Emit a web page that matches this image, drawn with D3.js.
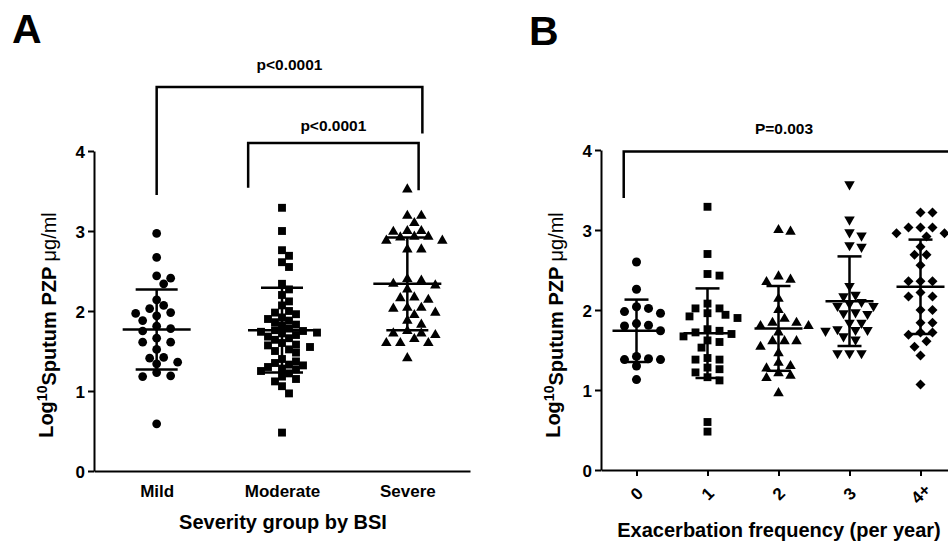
<!DOCTYPE html>
<html>
<head>
<meta charset="utf-8">
<script src="https://cdn.jsdelivr.net/npm/d3@7"></script>
<style>
body { margin: 0; background: #fff; }
svg text { font-family: "Liberation Sans", Arial, sans-serif; font-weight: bold; fill: #000; }
</style>
</head>
<body>
<svg width="948" height="546"></svg>
<script>
// panel A: severity groups
var sevCats = ["Mild", "Moderate", "Severe"];
var mildVals = [2.97, 2.67, 2.44, 2.41, 2.34, 2.14, 2.07, 2.03, 1.98, 1.97, 1.94, 1.88, 1.81, 1.78, 1.75,
  1.66, 1.61, 1.61, 1.52, 1.42, 1.41, 1.36, 1.34, 1.23, 1.19, 1.18, 0.59];
var moderateVals = [3.29, 3.00, 2.76, 2.69, 2.61, 2.55, 2.34, 2.27, 2.20, 2.12, 2.07, 2.00, 1.98, 1.96, 1.92,
  1.90, 1.88, 1.86, 1.83, 1.82, 1.78, 1.76, 1.75, 1.74, 1.73, 1.72, 1.70, 1.68, 1.66, 1.64, 1.60, 1.58,
  1.57, 1.55, 1.52, 1.50, 1.48, 1.40, 1.37, 1.35, 1.33, 1.32, 1.30, 1.28, 1.27, 1.25, 1.22, 1.18, 1.15,
  1.12, 1.06, 0.97, 0.48];
var severeVals = [3.52, 3.19, 3.19, 3.10, 3.00, 3.00, 2.99, 2.93, 2.93, 2.92, 2.88, 2.88, 2.77, 2.77, 2.40,
  2.38, 2.34, 2.32, 2.27, 2.17, 2.16, 2.14, 2.04, 2.04, 2.03, 1.98, 1.95, 1.88, 1.83, 1.75, 1.72, 1.72,
  1.70, 1.65, 1.60, 1.60, 1.60, 1.41];
var sevMean = [1.77, 1.76, 2.34];
var sevSD = [0.50, 0.53, 0.58];

// panel B: exacerbation frequency
var exCats = ["0", "1", "2", "3", "4+"];
var ex0Vals = [2.60, 2.26, 2.04, 2.02, 1.98, 1.96, 1.83, 1.81, 1.80, 1.74, 1.42, 1.39, 1.38, 1.38, 1.30, 1.13];
var ex1Vals = [3.29, 2.70, 2.45, 2.43, 2.08, 2.02, 2.02, 1.96, 1.94, 1.92, 1.90, 1.76, 1.74, 1.72, 1.70,
  1.67, 1.62, 1.60, 1.53, 1.40, 1.38, 1.38, 1.28, 1.26, 1.22, 1.16, 1.12, 0.60, 0.48];
var ex2Vals = [3.00, 2.98, 2.42, 2.38, 2.35, 2.14, 2.00, 1.89, 1.84, 1.84, 1.80, 1.80, 1.72, 1.61, 1.61,
  1.61, 1.54, 1.46, 1.34, 1.30, 1.27, 1.21, 1.18, 1.15, 0.96];
var ex3Vals = [3.57, 3.13, 2.97, 2.93, 2.81, 2.79, 2.30, 2.19, 2.17, 2.10, 2.08, 2.05, 2.05, 1.97, 1.96,
  1.95, 1.84, 1.84, 1.76, 1.75, 1.75, 1.74, 1.67, 1.63, 1.46, 1.46, 1.46];
var ex4Vals = [3.22, 3.22, 3.03, 3.03, 3.03, 2.96, 2.96, 2.92, 2.79, 2.69, 2.69, 2.56, 2.36, 2.36, 2.36,
  2.22, 2.17, 2.17, 2.00, 2.00, 1.84, 1.84, 1.72, 1.72, 1.69, 1.61, 1.54, 1.43, 1.07];
var exMean = [1.74, 1.71, 1.77, 2.11, 2.29];
var exSD = [0.39, 0.56, 0.53, 0.56, 0.59];

var yTicks = [0, 1, 2, 3, 4];

var svg = d3.select("svg");

// simple column scatter layout, like prism does
function swarm(vals, y, cx, step, minDist) {
  var placed = [];
  vals.slice().sort(function(a, b) { return b - a; }).forEach(function(v) {
    var py = y(v);
    for (var k = 0; k < 60; k++) {
      var off = k === 0 ? 0 : (k % 2 ? 1 : -1) * Math.ceil(k / 2) * step;
      var px = cx + off;
      var ok = placed.every(function(p) { return Math.hypot(p.x - px, p.y - py) >= minDist; });
      if (ok) { placed.push({x: px, y: py, v: v}); break; }
    }
  });
  return placed;
}

function drawPanel(opt) {
  var g = svg.append("g");
  var x = d3.scalePoint().domain(opt.cats).range(opt.xRange).padding(0.5);
  var y = d3.scaleLinear().domain([0, 4]).range(opt.yRange);
  var step = x.step();

  // y axis
  var ya = g.append("g")
    .attr("transform", "translate(" + opt.xRange[0] + ",0)")
    .call(d3.axisLeft(y).tickValues(yTicks).tickFormat(d3.format("d")).tickSize(6).tickSizeOuter(0).tickPadding(3));
  ya.selectAll("path, line").attr("stroke", "#000").attr("stroke-width", 2);
  ya.selectAll("text").style("font-size", "17px").attr("dy", "0.36em");

  // x axis
  var xa = g.append("g")
    .attr("transform", "translate(0," + opt.yRange[0] + ")")
    .call(d3.axisBottom(x).tickSize(opt.xTick).tickSizeOuter(0).tickPadding(opt.xPad));
  xa.selectAll("path, line").attr("stroke", "#000").attr("stroke-width", 2);
  xa.selectAll("text").style("font-size", "17px");
  if (opt.rotate) {
    xa.selectAll("text")
      .attr("dy", null)
      .attr("text-anchor", "middle")
      .attr("dominant-baseline", "central")
      .attr("transform", function() { return "translate(0," + opt.xPad + ") rotate(-45)"; })
      .attr("y", 0);
  }

  // points
  opt.series.forEach(function(vals, i) {
    var pts = swarm(vals, y, x(opt.cats[i]), opt.swStep, opt.swDist[i]);
    var sym = opt.symbols[i];
    g.selectAll(null)
      .data(pts)
      .enter()
      .append("path")
      .attr("d", d3.symbol().type(sym.type).size(sym.size))
      .attr("transform", function(d) { return "translate(" + d.x + "," + d.y + ") rotate(" + (sym.rot || 0) + ")"; })
      .attr("fill", "#000");
  });

  // mean and SD
  var sg = g.selectAll(".sum")
    .data(opt.cats)
    .enter()
    .append("g")
    .attr("class", "sum")
    .attr("stroke", "#000")
    .attr("stroke-width", 2.5);
  sg.append("line")
    .attr("x1", function(d) { return x(d) - opt.meanW; })
    .attr("x2", function(d) { return x(d) + opt.meanW; })
    .attr("y1", function(d, i) { return y(opt.mean[i]); })
    .attr("y2", function(d, i) { return y(opt.mean[i]); });
  sg.append("line")
    .attr("x1", function(d) { return x(d); })
    .attr("x2", function(d) { return x(d); })
    .attr("y1", function(d, i) { return y(opt.mean[i] + opt.sd[i]); })
    .attr("y2", function(d, i) { return y(opt.mean[i] - opt.sd[i]); });
  [1, -1].forEach(function(s) {
    sg.append("line")
      .attr("x1", function(d) { return x(d) - opt.capW; })
      .attr("x2", function(d) { return x(d) + opt.capW; })
      .attr("y1", function(d, i) { return y(opt.mean[i] + s * opt.sd[i]); })
      .attr("y2", function(d, i) { return y(opt.mean[i] + s * opt.sd[i]); });
  });

  // significance brackets
  opt.brackets.forEach(function(b) {
    var xl = x(b.from) + b.dxL * step;
    var xr = x(b.to) + b.dxR * step;
    g.append("path")
      .attr("d", "M" + xl + "," + y(b.yL) + "V" + y(b.y) + "H" + xr + "V" + y(b.yR))
      .attr("fill", "none")
      .attr("stroke", "#000")
      .attr("stroke-width", 2.5);
    g.append("text")
      .attr("x", b.tx != null ? b.tx : (xl + xr) / 2)
      .attr("y", y(b.y) - b.ty)
      .attr("text-anchor", "middle")
      .style("font-size", "15.5px")
      .text(b.label);
  });

  // y title
  var yt = g.append("text")
    .attr("transform", "translate(" + opt.yTitle[0] + "," + opt.yTitle[1] + ") rotate(-90)")
    .attr("text-anchor", "middle")
    .style("font-size", "20px");
  yt.append("tspan").text("Log");
  yt.append("tspan").attr("dy", "-0.45em").style("font-size", "14px").text("10");
  yt.append("tspan").attr("dy", "0.45em").text("Sputum PZP ");
  yt.append("tspan").style("font-weight", "normal").text("\u03bcg/ml");

  // x title
  g.append("text")
    .attr("x", opt.xTitle[0])
    .attr("y", opt.xTitle[1])
    .attr("text-anchor", "middle")
    .style("font-size", "20px")
    .text(opt.xLabel);

  // panel letter
  g.append("text")
    .attr("x", opt.letterPos[0])
    .attr("y", opt.letterPos[1])
    .style("font-size", "41px")
    .text(opt.letter);
}

drawPanel({
  cats: sevCats,
  series: [mildVals, moderateVals, severeVals],
  mean: sevMean, sd: sevSD,
  xRange: [94, 470], yRange: [471, 151],
  xTick: 0, xPad: 14, rotate: false,
  symbols: [
    {type: d3.symbolCircle, size: 60},
    {type: d3.symbolSquare, size: 62},
    {type: d3.symbolTriangle, size: 48}
  ],
  swStep: 7, swDist: [8.6, 7.6, 8.6],
  meanW: 34, capW: 21,
  brackets: [
    {from: "Mild", to: "Severe", dxL: 0, dxR: 0.12, y: 4.8, yL: 3.45, yR: 4.22, ty: 17, label: "p<0.0001"},
    {from: "Moderate", to: "Severe", dxL: -0.27, dxR: 0.09, y: 4.1, yL: 3.54, yR: 3.51, ty: 12, label: "p<0.0001"}
  ],
  yTitle: [53, 325],
  xTitle: [283, 529],
  xLabel: "Severity group by BSI",
  letter: "A", letterPos: [12, 43]
});

drawPanel({
  cats: exCats,
  series: [ex0Vals, ex1Vals, ex2Vals, ex3Vals, ex4Vals],
  mean: exMean, sd: exSD,
  xRange: [601, 956], yRange: [470, 150],
  xTick: 6, xPad: 24, rotate: true,
  symbols: [
    {type: d3.symbolCircle, size: 64},
    {type: d3.symbolSquare, size: 62},
    {type: d3.symbolTriangle, size: 48},
    {type: d3.symbolTriangle, size: 48, rot: 180},
    {type: d3.symbolSquare, size: 50, rot: 45}
  ],
  swStep: 6, swDist: [9, 8.4, 9, 9, 9],
  meanW: 24, capW: 12,
  brackets: [
    {from: "0", to: "4+", dxL: -0.18, dxR: 0.42, y: 3.98, yL: 3.4, yR: 3.4, ty: 18, tx: 784, label: "P=0.003"}
  ],
  yTitle: [560, 325],
  xTitle: [779, 537],
  xLabel: "Exacerbation frequency (per year)",
  letter: "B", letterPos: [529, 45]
});
</script>
</body>
</html>
